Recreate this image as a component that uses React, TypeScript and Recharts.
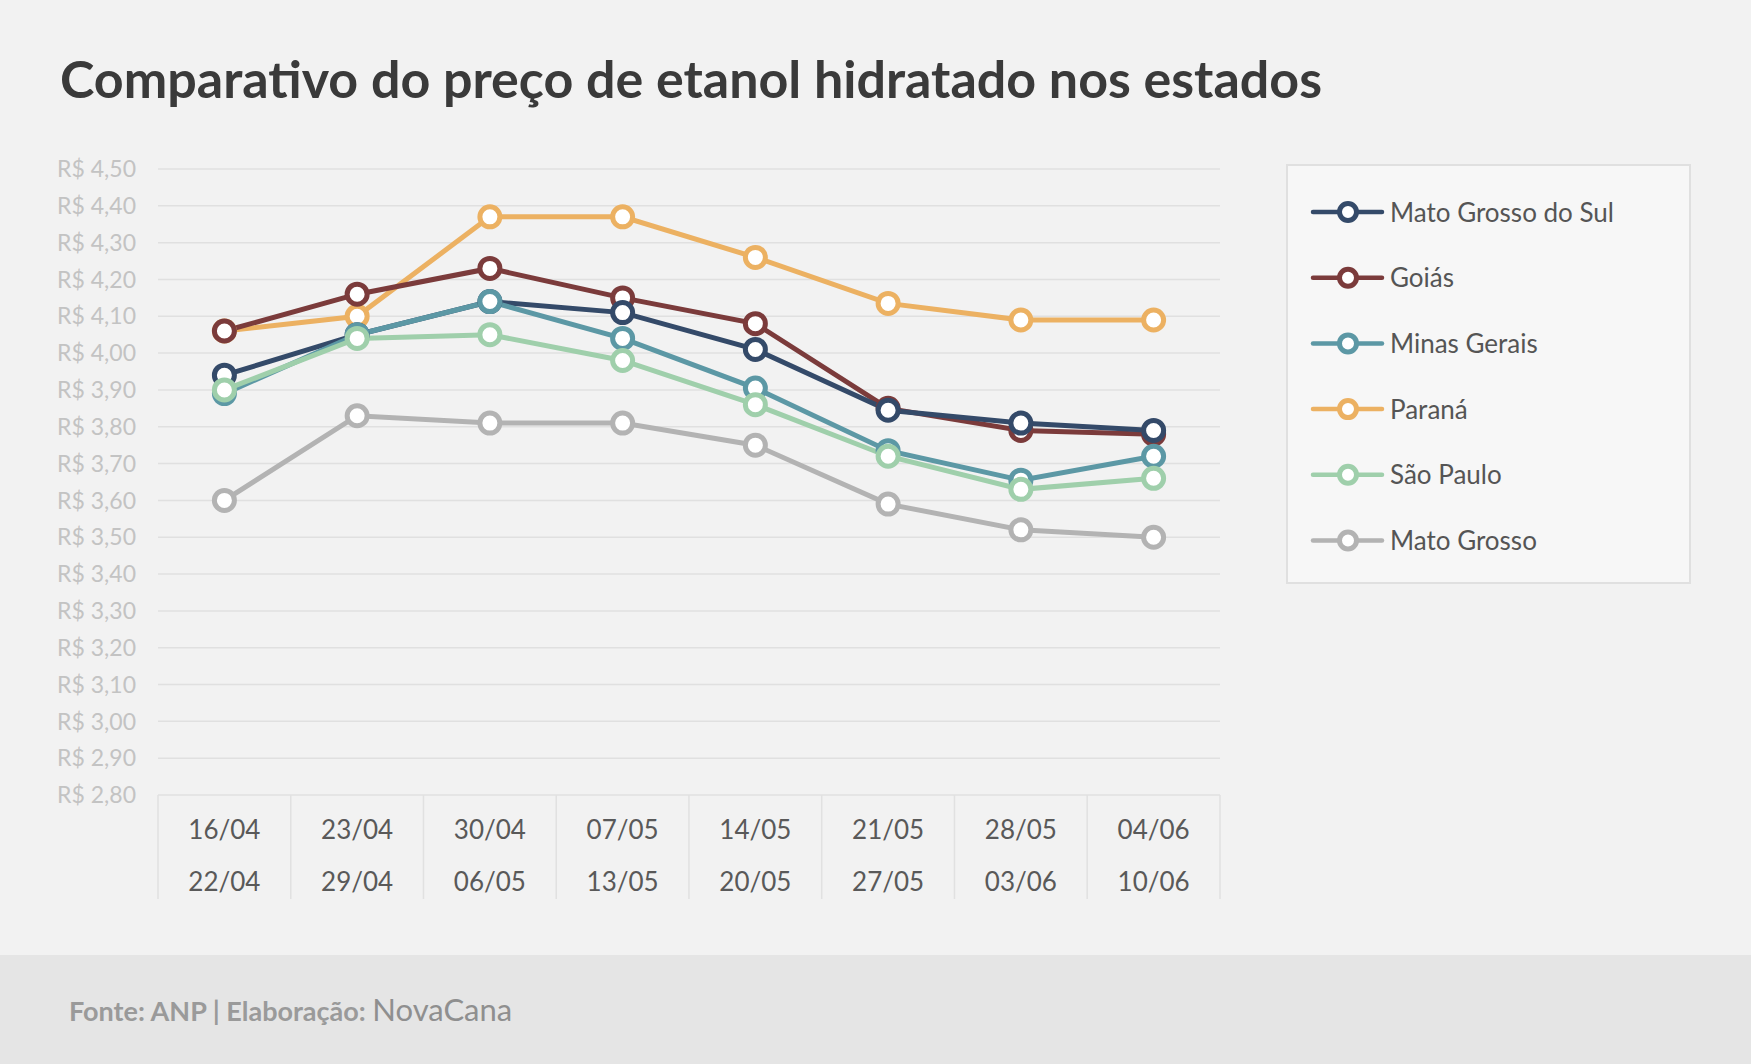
import { LineChart, Line, XAxis, YAxis, CartesianGrid, Legend } from "recharts";

// semanas: início e fim de cada levantamento
const semanasInicio = ["16/04", "23/04", "30/04", "07/05", "14/05", "21/05", "28/05", "04/06"];
const semanasFim = ["22/04", "29/04", "06/05", "13/05", "20/05", "27/05", "03/06", "10/06"];

// preço médio do etanol hidratado (R$/litro)
const matoGrossoDoSul = [3.94, 4.05, 4.14, 4.11, 4.01, 3.845, 3.81, 3.79];
const goias = [4.06, 4.16, 4.23, 4.15, 4.08, 3.85, 3.79, 3.78];
const minasGerais = [3.89, 4.05, 4.14, 4.04, 3.905, 3.735, 3.655, 3.72];
const parana = [4.06, 4.1, 4.37, 4.37, 4.26, 4.135, 4.09, 4.09];
const saoPaulo = [3.9, 4.04, 4.05, 3.98, 3.86, 3.72, 3.63, 3.66];
const matoGrosso = [3.6, 3.83, 3.81, 3.81, 3.75, 3.59, 3.52, 3.5];

const yTicks = [2.8, 2.9, 3.0, 3.1, 3.2, 3.3, 3.4, 3.5, 3.6, 3.7, 3.8, 3.9, 4.0, 4.1, 4.2, 4.3, 4.4, 4.5];

// ordem da legenda
const estados = [
  { key: "ms", name: "Mato Grosso do Sul", color: "#344a69" },
  { key: "go", name: "Goiás", color: "#7b3b3b" },
  { key: "mg", name: "Minas Gerais", color: "#5c98a5" },
  { key: "pr", name: "Paraná", color: "#ecb162" },
  { key: "sp", name: "São Paulo", color: "#9fcfab" },
  { key: "mt", name: "Mato Grosso", color: "#b3b3b3" },
];
// ordem de desenho (quem fica por cima)
const drawOrder = ["pr", "go", "ms", "mg", "sp", "mt"];

const data = semanasInicio.map((inicio, i) => ({
  inicio,
  ms: matoGrossoDoSul[i],
  go: goias[i],
  mg: minasGerais[i],
  pr: parana[i],
  sp: saoPaulo[i],
  mt: matoGrosso[i],
}));

const FONT = "Lato, 'Open Sans', sans-serif";
const HALF_BAND = 66.4;

const formatPreco = (v: number) => `R$ ${v.toFixed(2).replace(".", ",")}`;

function SemanaTick(props: any) {
  const { x, y, payload } = props;
  const i = semanasInicio.indexOf(payload.value);
  const last = i === semanasInicio.length - 1;
  return (
    <g>
      <line x1={x - HALF_BAND} x2={x - HALF_BAND} y1={y} y2={y + 104} stroke="#e1e1e1" strokeWidth={1.5} />
      {last && (
        <line x1={x + HALF_BAND} x2={x + HALF_BAND} y1={y} y2={y + 104} stroke="#e1e1e1" strokeWidth={1.5} />
      )}
      <text x={x} y={y + 44} textAnchor="middle" fontSize={26} fill="#595959" fontFamily={FONT}>
        {semanasInicio[i]}
      </text>
      <text x={x} y={y + 96} textAnchor="middle" fontSize={26} fill="#595959" fontFamily={FONT}>
        {semanasFim[i]}
      </text>
    </g>
  );
}

function LegendBox() {
  return (
    <div
      style={{
        width: 405,
        height: 420,
        boxSizing: "border-box",
        border: "2px solid #e0e0e0",
        background: "#f7f7f7",
      }}
    >
      <svg width={401} height={416}>
        {estados.map((e, i) => {
          const cy = 46 + i * 65.7;
          return (
            <g key={e.key}>
              <line x1={25} x2={94} y1={cy} y2={cy} stroke={e.color} strokeWidth={4.5} strokeLinecap="round" />
              <circle cx={60} cy={cy} r={8.5} fill="#fff" stroke={e.color} strokeWidth={5} />
              <text x={102} y={cy + 9.5} fontSize={26} fill="#555" fontFamily={FONT}>
                {e.name}
              </text>
            </g>
          );
        })}
      </svg>
    </div>
  );
}

export default function App() {
  return (
    <div style={{ position: "absolute", left: 0, top: 0, width: 1751, height: 1064, background: "#f2f2f2", fontFamily: FONT }}>
      <div style={{ position: "absolute", left: 0, top: 955, width: 1751, height: 109, background: "#e5e5e5" }} />
      <div style={{ position: "absolute", left: 0, top: 0 }}>
        <LineChart width={1751} height={955} data={data} margin={{ top: 169, right: 531, bottom: 50, left: 0 }}>
          <CartesianGrid vertical={false} stroke="#e0e0e0" strokeWidth={1.5} />
          <XAxis
            dataKey="inicio"
            interval={0}
            axisLine={false}
            tickLine={false}
            tickSize={0}
            tickMargin={0}
            height={110}
            padding={{ left: HALF_BAND, right: HALF_BAND }}
            tick={<SemanaTick />}
          />
          <YAxis
            type="number"
            domain={[2.8, 4.5]}
            ticks={yTicks}
            interval={0}
            width={158}
            axisLine={false}
            tickLine={false}
            tickSize={0}
            tickMargin={22}
            tickFormatter={formatPreco}
            tick={{ fontSize: 23, fill: "#c3c3c3", fontFamily: FONT }}
          />
          <Legend
            layout="vertical"
            align="center"
            verticalAlign="middle"
            wrapperStyle={{ left: 1286, top: 164, width: 405, height: 420 }}
            content={() => <LegendBox />}
          />
          {drawOrder.map((k) => {
            const e = estados.find((s) => s.key === k)!;
            return (
              <Line
                key={k}
                type="linear"
                dataKey={k}
                name={e.name}
                stroke={e.color}
                strokeWidth={5}
                dot={{ r: 10, fill: "#fff", stroke: e.color, strokeWidth: 5 }}
                activeDot={false}
                isAnimationActive={false}
              />
            );
          })}
        </LineChart>
      </div>
      <svg width={1751} height={1064} style={{ position: "absolute", left: 0, top: 0, pointerEvents: "none" }}>
        <text x={60} y={98} fontSize={52} fontWeight={700} fill="#3a3a3a" fontFamily={FONT}>
          Comparativo do preço de etanol hidratado nos estados
        </text>
        <text x={69} y={1021} fontFamily={FONT} fill="#9a9a9a">
          <tspan fontSize={27} fontWeight={700}>Fonte: ANP | Elaboração: </tspan>
          <tspan fontSize={31} fill="#8f8f8f">NovaCana</tspan>
        </text>
      </svg>
    </div>
  );
}
